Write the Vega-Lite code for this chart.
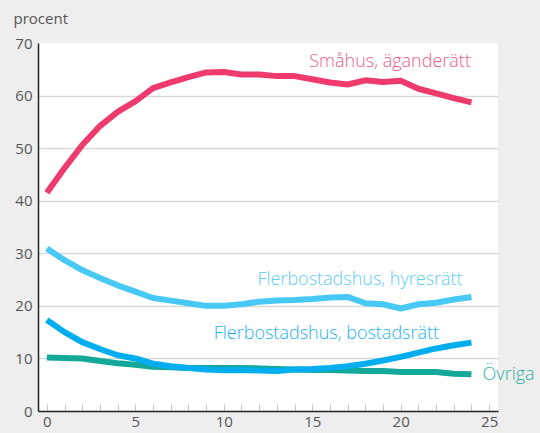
{
  "$schema": "https://vega.github.io/schema/vega-lite/v6.json",
  "width": 460,
  "height": 368,
  "autosize": {"type": "none"},
  "padding": {"left": 38, "top": 43, "right": 42, "bottom": 22},
  "background": "#eeeeee",
  "config": {"view": {"fill": "white", "stroke": null}, "font": "Open Sans"},
  "resolve": {"scale": {"color": "independent"}},
  "layer": [
    {
      "data": {"values": [
        {"x":0,"s":"Småhus, äganderätt","v":41.5},{"x":1,"s":"Småhus, äganderätt","v":46.2},{"x":2,"s":"Småhus, äganderätt","v":50.6},{"x":3,"s":"Småhus, äganderätt","v":54.2},{"x":4,"s":"Småhus, äganderätt","v":56.9},{"x":5,"s":"Småhus, äganderätt","v":58.9},{"x":6,"s":"Småhus, äganderätt","v":61.4},{"x":7,"s":"Småhus, äganderätt","v":62.5},{"x":8,"s":"Småhus, äganderätt","v":63.5},{"x":9,"s":"Småhus, äganderätt","v":64.4},{"x":10,"s":"Småhus, äganderätt","v":64.5},{"x":11,"s":"Småhus, äganderätt","v":64.0},{"x":12,"s":"Småhus, äganderätt","v":64.0},{"x":13,"s":"Småhus, äganderätt","v":63.7},{"x":14,"s":"Småhus, äganderätt","v":63.7},{"x":15,"s":"Småhus, äganderätt","v":63.1},{"x":16,"s":"Småhus, äganderätt","v":62.5},{"x":17,"s":"Småhus, äganderätt","v":62.1},{"x":18,"s":"Småhus, äganderätt","v":62.9},{"x":19,"s":"Småhus, äganderätt","v":62.6},{"x":20,"s":"Småhus, äganderätt","v":62.8},{"x":21,"s":"Småhus, äganderätt","v":61.3},{"x":22,"s":"Småhus, äganderätt","v":60.4},{"x":23,"s":"Småhus, äganderätt","v":59.5},{"x":24,"s":"Småhus, äganderätt","v":58.7},
        {"x":0,"s":"Flerbostadshus, hyresrätt","v":30.9},{"x":1,"s":"Flerbostadshus, hyresrätt","v":28.7},{"x":2,"s":"Flerbostadshus, hyresrätt","v":26.8},{"x":3,"s":"Flerbostadshus, hyresrätt","v":25.3},{"x":4,"s":"Flerbostadshus, hyresrätt","v":23.9},{"x":5,"s":"Flerbostadshus, hyresrätt","v":22.7},{"x":6,"s":"Flerbostadshus, hyresrätt","v":21.5},{"x":7,"s":"Flerbostadshus, hyresrätt","v":21.0},{"x":8,"s":"Flerbostadshus, hyresrätt","v":20.5},{"x":9,"s":"Flerbostadshus, hyresrätt","v":20.0},{"x":10,"s":"Flerbostadshus, hyresrätt","v":20.0},{"x":11,"s":"Flerbostadshus, hyresrätt","v":20.3},{"x":12,"s":"Flerbostadshus, hyresrätt","v":20.8},{"x":13,"s":"Flerbostadshus, hyresrätt","v":21.0},{"x":14,"s":"Flerbostadshus, hyresrätt","v":21.1},{"x":15,"s":"Flerbostadshus, hyresrätt","v":21.3},{"x":16,"s":"Flerbostadshus, hyresrätt","v":21.6},{"x":17,"s":"Flerbostadshus, hyresrätt","v":21.7},{"x":18,"s":"Flerbostadshus, hyresrätt","v":20.5},{"x":19,"s":"Flerbostadshus, hyresrätt","v":20.3},{"x":20,"s":"Flerbostadshus, hyresrätt","v":19.5},{"x":21,"s":"Flerbostadshus, hyresrätt","v":20.3},{"x":22,"s":"Flerbostadshus, hyresrätt","v":20.6},{"x":23,"s":"Flerbostadshus, hyresrätt","v":21.2},{"x":24,"s":"Flerbostadshus, hyresrätt","v":21.7},
        {"x":0,"s":"Övriga","v":10.2},{"x":1,"s":"Övriga","v":10.1},{"x":2,"s":"Övriga","v":10.0},{"x":3,"s":"Övriga","v":9.5},{"x":4,"s":"Övriga","v":9.1},{"x":5,"s":"Övriga","v":8.8},{"x":6,"s":"Övriga","v":8.4},{"x":7,"s":"Övriga","v":8.3},{"x":8,"s":"Övriga","v":8.2},{"x":9,"s":"Övriga","v":8.2},{"x":10,"s":"Övriga","v":8.2},{"x":11,"s":"Övriga","v":8.2},{"x":12,"s":"Övriga","v":8.1},{"x":13,"s":"Övriga","v":8.0},{"x":14,"s":"Övriga","v":7.9},{"x":15,"s":"Övriga","v":7.8},{"x":16,"s":"Övriga","v":7.8},{"x":17,"s":"Övriga","v":7.7},{"x":18,"s":"Övriga","v":7.6},{"x":19,"s":"Övriga","v":7.6},{"x":20,"s":"Övriga","v":7.4},{"x":21,"s":"Övriga","v":7.4},{"x":22,"s":"Övriga","v":7.4},{"x":23,"s":"Övriga","v":7.1},{"x":24,"s":"Övriga","v":7.0},
        {"x":0,"s":"Flerbostadshus, bostadsrätt","v":17.3},{"x":1,"s":"Flerbostadshus, bostadsrätt","v":15.0},{"x":2,"s":"Flerbostadshus, bostadsrätt","v":13.1},{"x":3,"s":"Flerbostadshus, bostadsrätt","v":11.8},{"x":4,"s":"Flerbostadshus, bostadsrätt","v":10.6},{"x":5,"s":"Flerbostadshus, bostadsrätt","v":10.0},{"x":6,"s":"Flerbostadshus, bostadsrätt","v":9.0},{"x":7,"s":"Flerbostadshus, bostadsrätt","v":8.5},{"x":8,"s":"Flerbostadshus, bostadsrätt","v":8.2},{"x":9,"s":"Flerbostadshus, bostadsrätt","v":7.9},{"x":10,"s":"Flerbostadshus, bostadsrätt","v":7.75},{"x":11,"s":"Flerbostadshus, bostadsrätt","v":7.8},{"x":12,"s":"Flerbostadshus, bostadsrätt","v":7.7},{"x":13,"s":"Flerbostadshus, bostadsrätt","v":7.6},{"x":14,"s":"Flerbostadshus, bostadsrätt","v":7.9},{"x":15,"s":"Flerbostadshus, bostadsrätt","v":8.0},{"x":16,"s":"Flerbostadshus, bostadsrätt","v":8.2},{"x":17,"s":"Flerbostadshus, bostadsrätt","v":8.5},{"x":18,"s":"Flerbostadshus, bostadsrätt","v":9.0},{"x":19,"s":"Flerbostadshus, bostadsrätt","v":9.6},{"x":20,"s":"Flerbostadshus, bostadsrätt","v":10.3},{"x":21,"s":"Flerbostadshus, bostadsrätt","v":11.1},{"x":22,"s":"Flerbostadshus, bostadsrätt","v":11.9},{"x":23,"s":"Flerbostadshus, bostadsrätt","v":12.5},{"x":24,"s":"Flerbostadshus, bostadsrätt","v":13.0}
      ]},
      "mark": {"type": "line", "strokeWidth": 6, "strokeCap": "butt", "strokeJoin": "round"},
      "encoding": {
        "x": {"field": "x", "type": "quantitative",
          "scale": {"domain": [-0.5, 25.5], "nice": false, "zero": false},
          "axis": {"title": null, "values": [0,1,2,3,4,5,6,7,8,9,10,11,12,13,14,15,16,17,18,19,20,21,22,23,24,25],
            "tickCount": 40, "format": "d",
            "labelExpr": "datum.value % 5 === 0 ? datum.label : ''", "labelOverlap": false,
            "tickSize": -7, "tickColor": "#c4c4c4", "tickWidth": 1,
            "domainColor": "#222222", "domainWidth": 1.5, "grid": false,
            "labelFontSize": 15, "labelColor": "#555555", "labelPadding": 10, "labelFlush": false, "labelFont": "Open Sans"}},
        "y": {"field": "v", "type": "quantitative",
          "scale": {"domain": [0, 70], "nice": false},
          "axis": {"title": "procent", "titleAngle": 0, "titleAlign": "left", "titleBaseline": "alphabetic",
            "titleX": -25, "titleY": -20, "titleFontSize": 15, "titleFontWeight": "normal", "titleColor": "#555555", "titleFont": "Open Sans",
            "values": [0,10,20,30,40,50,60,70], "ticks": false, "labelPadding": 6,
            "labelFontSize": 15, "labelColor": "#555555", "labelFont": "Open Sans",
            "gridColor": "#d9d9d9", "gridWidth": 1.5,
            "gridOpacity": {"condition": {"test": "datum.value === 70 || datum.value === 0", "value": 0}, "value": 1},
            "domainColor": "#222222", "domainWidth": 1.5}},
        "color": {"field": "s", "type": "nominal",
          "scale": {"domain": ["Småhus, äganderätt", "Flerbostadshus, hyresrätt", "Övriga", "Flerbostadshus, bostadsrätt"],
                    "range": ["#ef3a6e", "#48c8f4", "#13a898", "#00aeef"]},
          "legend": null}
      }
    },
    {
      "data": {"values": [
        {"s": "Småhus, äganderätt", "x": 19.4, "v": 66.4},
        {"s": "Flerbostadshus, hyresrätt", "x": 17.7, "v": 24.9},
        {"s": "Flerbostadshus, bostadsrätt", "x": 15.8, "v": 14.7},
        {"s": "Övriga", "x": 26.1, "v": 6.8}
      ]},
      "mark": {"type": "text", "fontSize": 18, "fontWeight": 300, "align": "center", "baseline": "middle", "font": "Open Sans"},
      "encoding": {
        "x": {"field": "x", "type": "quantitative"},
        "y": {"field": "v", "type": "quantitative"},
        "text": {"field": "s"},
        "color": {"field": "s", "type": "nominal",
          "scale": {"domain": ["Småhus, äganderätt", "Flerbostadshus, hyresrätt", "Övriga", "Flerbostadshus, bostadsrätt"],
                    "range": ["#f05a88", "#5ccdf4", "#2cb0a2", "#1ab2ee"]},
          "legend": null}
      }
    }
  ]
}
